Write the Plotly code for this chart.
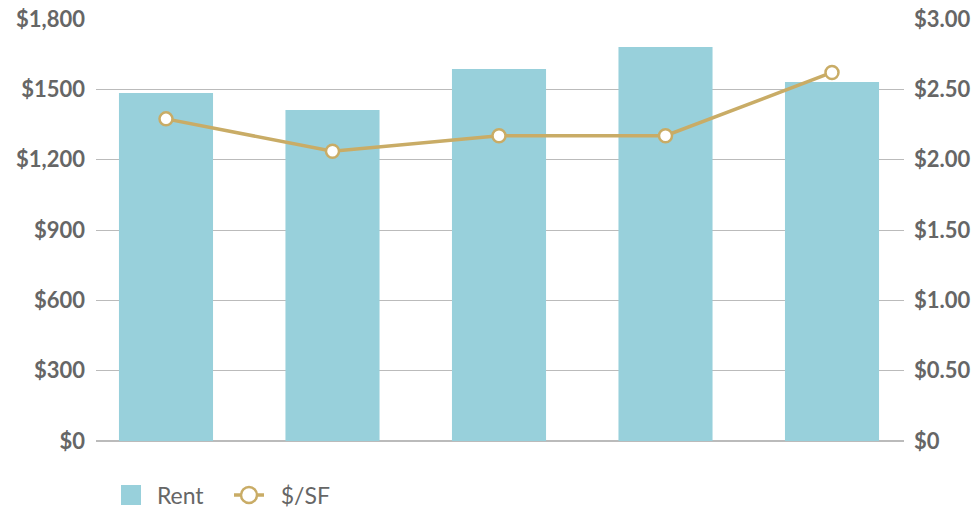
import plotly.graph_objects as go

categories = ["A", "B", "C", "D", "E"]
rent = [1484, 1412, 1587, 1681, 1531]
per_sf = [2.29, 2.06, 2.17, 2.17, 2.62]

left_tickvals = [0, 300, 600, 900, 1200, 1500, 1800]
left_ticktext = ["$0", "$300", "$600", "$900", "$1,200", "$1500", "$1,800"]
right_tickvals = [0, 0.5, 1.0, 1.5, 2.0, 2.5, 3.0]
right_ticktext = ["$0", "$0.50", "$1.00", "$1.50", "$2.00", "$2.50", "$3.00"]

BAR = "#98D0DB"
GOLD = "#C9AC66"
TXT = "#666666"
GRID = "#BBBBBB"
FONT = "Lato, sans-serif"

xs = list(range(len(categories)))

fig = go.Figure()
fig.add_trace(go.Bar(x=xs, y=rent, name="Rent", showlegend=False,
                     marker=dict(color=BAR, line=dict(width=0)), width=0.565,
                     yaxis="y"))
fig.add_trace(go.Scatter(x=xs, y=per_sf, name="$/SF", showlegend=False,
                         mode="lines+markers", yaxis="y2",
                         line=dict(color=GOLD, width=3.5),
                         marker=dict(size=13, color="white",
                                     line=dict(color=GOLD, width=2.5))))
# legend-only entries (larger symbols as in the reference)
fig.add_trace(go.Scatter(x=[None], y=[None], name=" Rent", mode="markers",
                         marker=dict(symbol="square", size=16, color=BAR,
                                     line=dict(color=BAR, width=4))))
fig.add_trace(go.Scatter(x=[None], y=[None], name="  $/SF", mode="lines+markers",
                         line=dict(color=GOLD, width=3.5),
                         marker=dict(size=16, color="white",
                                     line=dict(color=GOLD, width=2.5))))

fig.update_layout(
    width=977, height=509,
    margin=dict(l=96, r=73, t=19, b=68, autoexpand=False),
    paper_bgcolor="white", plot_bgcolor="white",
    font=dict(family=FONT, color=TXT),
    showlegend=True,
    legend=dict(orientation="h", xref="container", yref="container",
                x=111 / 977, xanchor="left", y=1 - 495 / 509, yanchor="middle",
                font=dict(size=23, color=TXT, family=FONT),
                entrywidth=73, entrywidthmode="pixels",
                bgcolor="rgba(0,0,0,0)", borderwidth=0),
    xaxis=dict(range=[-0.4204, 4.4324], showticklabels=False, showgrid=False,
               zeroline=False, showline=False, ticks=""),
    yaxis=dict(range=[0, 1800], tickvals=left_tickvals, ticktext=left_ticktext,
               showgrid=True, gridcolor=GRID, gridwidth=1,
               zeroline=True, zerolinecolor=GRID, zerolinewidth=1.5,
               showline=False, ticks="", automargin=False,
               tickfont=dict(size=22, color=TXT, family=FONT, weight="bold"),
               ticklabelstandoff=10),
    yaxis2=dict(range=[0, 3.0], tickvals=right_tickvals, ticktext=right_ticktext,
                overlaying="y", side="right", showgrid=False, zeroline=False,
                showline=False, ticks="", automargin=False,
                tickfont=dict(size=22, color=TXT, family=FONT, weight="bold"),
                ticklabelstandoff=9),
)

fig.write_html("out.html", config={"displayModeBar": False},
               post_script="document.body.style.margin='0';document.body.style.overflow='hidden';")
